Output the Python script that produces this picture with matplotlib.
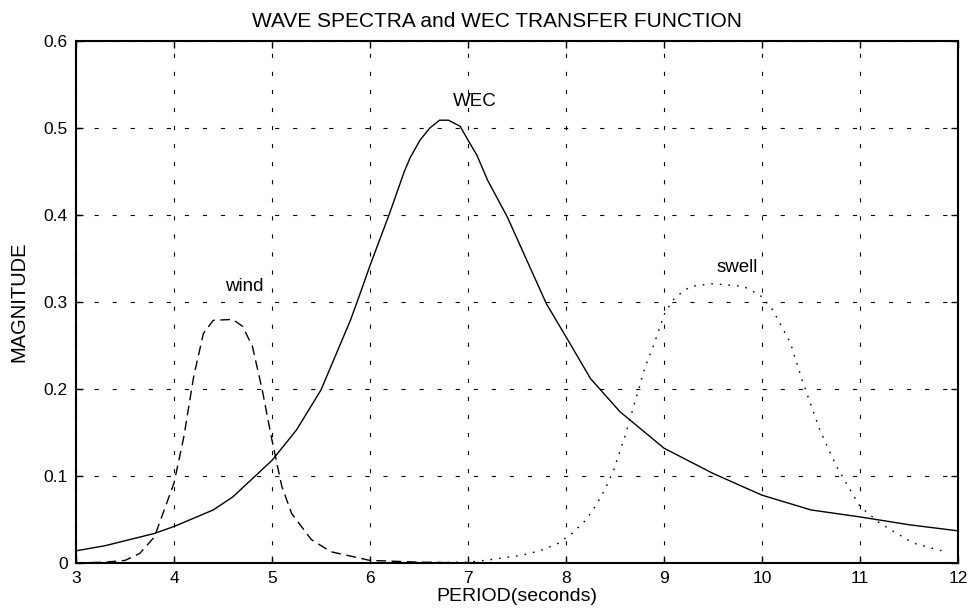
import matplotlib
matplotlib.use("Agg")
import matplotlib.pyplot as plt

# WEC transfer function (solid)
wec_period = [3, 3.3, 3.8, 4, 4.4, 4.6, 5, 5.25, 5.5, 5.8, 5.9, 6, 6.1, 6.2, 6.35, 6.41,
              6.51, 6.61, 6.71, 6.8, 6.92, 7, 7.09, 7.2, 7.4, 7.6, 7.8, 8, 8.25, 8.55,
              9, 9.5, 10, 10.5, 11, 11.5, 12]
wec_mag = [0.014, 0.02, 0.034, 0.042, 0.061, 0.076, 0.118, 0.153, 0.199, 0.279, 0.31,
           0.342, 0.372, 0.402, 0.45, 0.466, 0.486, 0.5, 0.509, 0.509, 0.502, 0.486,
           0.469, 0.44, 0.398, 0.348, 0.298, 0.26, 0.212, 0.174, 0.132, 0.103, 0.078,
           0.061, 0.053, 0.044, 0.037]

# wind sea spectrum (dashed)
wind_period = [3, 3.3, 3.5, 3.65, 3.8, 3.9, 4, 4.1, 4.2, 4.3, 4.4, 4.6, 4.7, 4.8, 4.9,
               5, 5.1, 5.2, 5.4, 5.6, 6, 6.5, 7]
wind_mag = [0, 0.001, 0.003, 0.011, 0.03, 0.061, 0.092, 0.145, 0.214, 0.264, 0.279,
            0.28, 0.272, 0.249, 0.199, 0.141, 0.088, 0.057, 0.027, 0.013, 0.003, 0.001, 0]

# swell spectrum (dotted)
swell_period = [6, 7, 7.17, 7.36, 7.55, 7.73, 7.91, 8.06, 8.2, 8.31, 8.4, 8.48, 8.54,
                8.6, 8.7, 8.81, 8.89, 9.01, 9.11, 9.27, 9.5, 9.81, 9.98, 10.11, 10.29,
                10.41, 10.59, 10.76, 11.0, 11.2, 11.54, 11.88]
swell_mag = [0, 0.001, 0.003, 0.006, 0.009, 0.014, 0.022, 0.034, 0.049, 0.067, 0.085,
             0.105, 0.125, 0.145, 0.184, 0.226, 0.249, 0.288, 0.305, 0.318, 0.321,
             0.318, 0.308, 0.291, 0.253, 0.21, 0.153, 0.111, 0.065, 0.046, 0.023, 0.0126]

x_ticks = [3, 4, 5, 6, 7, 8, 9, 10, 11, 12]
y_ticks = [0, 0.1, 0.2, 0.3, 0.4, 0.5, 0.6]
y_tick_labels = ["0", "0.1", "0.2", "0.3", "0.4", "0.5", "0.6"]

plt.rcParams["font.family"] = ["Liberation Sans", "DejaVu Sans"]
plt.rcParams["lines.scale_dashes"] = False


def main():

    fig = plt.figure(figsize=(9.71, 6.16), dpi=100)
    ax = fig.add_axes([0.0783, 0.086, 0.9083, 0.8474])

    ax.plot(wec_period, wec_mag, color="black", linewidth=1.0)
    ax.plot(wind_period, wind_mag, color="black", linewidth=1.0,
            linestyle=(0, (7, 4)))
    ax.plot(swell_period, swell_mag, color="black", linewidth=1.0,
            linestyle=(0, (1.2, 5)))

    ax.set_xlim(3, 12)
    ax.set_ylim(0, 0.6)
    ax.set_xticks(x_ticks)
    ax.set_yticks(y_ticks)
    ax.set_yticklabels(y_tick_labels)

    ax.grid(True, color="black", linewidth=0.8, linestyle=(0, (3, 10)))
    ax.tick_params(direction="in", top=True, right=True, length=5, width=1,
                   labelsize=12.5, pad=6)
    for spine in ax.spines.values():
        spine.set_linewidth(1.5)

    ax.text(4.72, 0.318, "wind", ha="center", va="center", fontsize=13.5)
    ax.text(7.07, 0.53, "WEC", ha="center", va="center", fontsize=13.5)
    ax.text(9.75, 0.34, "swell", ha="center", va="center", fontsize=13.5)

    ax.set_title("WAVE SPECTRA and WEC TRANSFER FUNCTION", fontsize=15, pad=10,
                 x=0.477)
    ax.set_xlabel("PERIOD(seconds)", fontsize=14, labelpad=1)
    ax.set_ylabel("MAGNITUDE", fontsize=14.5, labelpad=11)

    fig.savefig("out.png", dpi=100)


if __name__ == "__main__":
    main()
